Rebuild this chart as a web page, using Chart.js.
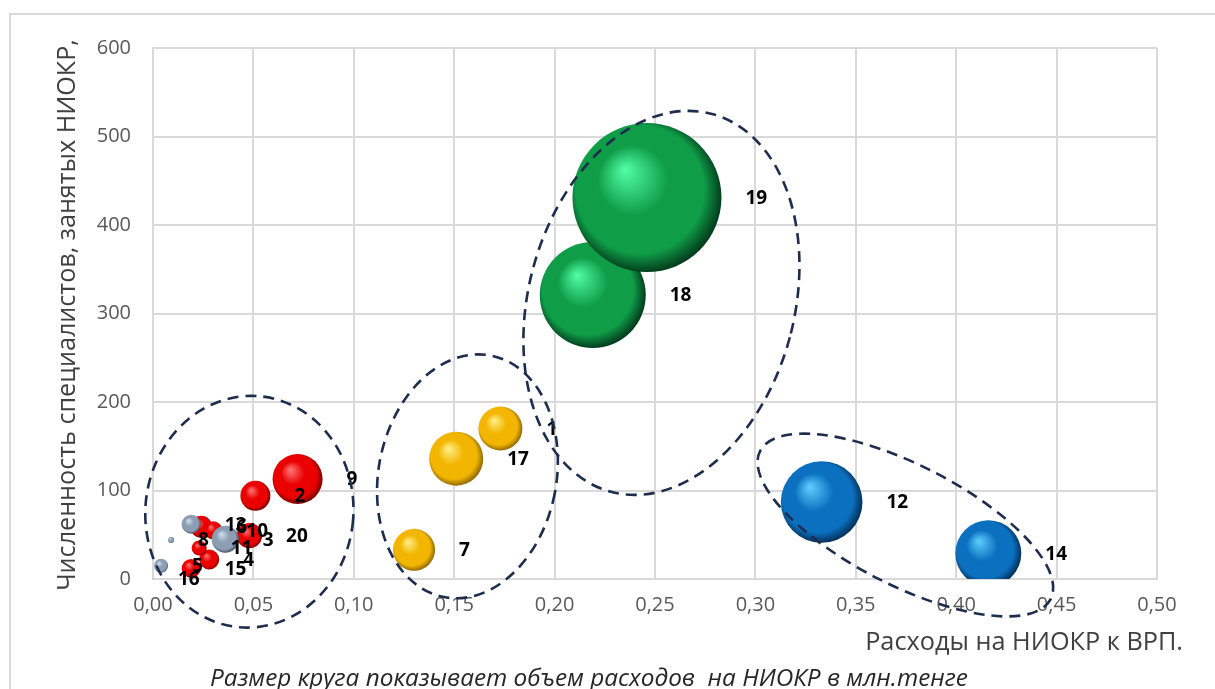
<!DOCTYPE html>
<html><head><meta charset="utf-8">
<script src="https://cdn.jsdelivr.net/npm/chart.js@4.4.1/dist/chart.umd.min.js"></script>
<style>
html,body{margin:0;padding:0;background:#fff;}
#wrap{position:relative;width:1215px;height:689px;overflow:hidden;background:#fff;}
#frame{position:absolute;left:9px;top:13px;width:1230px;height:700px;border:2px solid #d9d9d9;box-sizing:border-box;}
canvas{position:absolute;left:0;top:0;}
</style></head><body>
<div id="wrap"><div id="frame"></div><canvas id="c" width="1215" height="689"></canvas></div>
<script>
// ---- data ----
const regions  = ['1','2','3','4','5','6','7','8','9','10','11','12','13','14','15','16','17','18','19','20'];
const rdShare  = [0.173,0.051,0.036,0.028,0.004,0.024,0.130,0.009,0.072,0.030,0.023,0.333,0.019,0.416,0.019,0.000,0.151,0.219,0.246,0.048];
const staff    = [170,94,45,22,15,59,33,44,113,55,35,87,62,29,12,0,136,321,431,49];
const spending = [5230,2430,1970,1080,530,1310,4770,97,6760,880,610,18000,975,11770,975,10,7880,30360,60000,1740];
const groups   = ['yellow','red','gray','red','gray','red','yellow','gray','red','red','red','blue','gray','blue','red','gray','yellow','green','green','red'];
const xTicks   = [0,0.05,0.10,0.15,0.20,0.25,0.30,0.35,0.40,0.45,0.50];
const yTicks   = [0,100,200,300,400,500,600];

// ---- cluster ellipses (annotation, in data units) ----
const ellCx  = [0.048, 0.1566, 0.2532, 0.3747];
const ellCy  = [76, 116, 312, 61];
const ellRx  = [0.0518, 0.0443, 0.0662, 0.0812];
const ellRy  = [131, 139, 221, 68];
const ellRot = [5, 11, 15, 27];

// ---- styles ----
const palette = {
  gray:   {hi:'#d4e0ee', base:'#8d9eb4', dark:'#4a586c'},
  red:    {hi:'#ff7a7a', base:'#ea0000', dark:'#7e0000'},
  yellow: {hi:'#fff08a', base:'#f2b600', dark:'#946a00'},
  green:  {hi:'#52ffa6', base:'#0f9d48', dark:'#033f1d'},
  blue:   {hi:'#5fd0ff', base:'#0b70c0', dark:'#04325c'}
};
const groupOrder = ['gray','red','yellow','green','blue'];
const R_MAX = 74.5;
const vMax = Math.max(...spending);

function gradFill(group){
  const p = palette[group];
  return function(ctx){
    if (ctx.type !== 'data' || !ctx.raw) return p.base;
    const ch = ctx.chart;
    if (!ch.scales || !ch.scales.x || !ch.scales.y) return p.base;
    const px = ch.scales.x.getPixelForValue(ctx.raw.x);
    const py = ch.scales.y.getPixelForValue(ctx.raw.y);
    const r = Math.max(ctx.raw.r, 0.5);
    if (!isFinite(px) || !isFinite(py) || !isFinite(r)) return p.base;
    const g = ch.ctx.createRadialGradient(px - 0.3*r, py - 0.38*r, 0, px - 0.05*r, py - 0.05*r, r*1.05);
    g.addColorStop(0, p.hi);
    g.addColorStop(0.45, p.base);
    g.addColorStop(0.82, p.base);
    g.addColorStop(1, p.dark);
    return g;
  };
}

const datasets = groupOrder.map(gr => ({
  label: gr,
  data: regions.map((name,i) => ({x: rdShare[i], y: staff[i], r: R_MAX*Math.sqrt(spending[i]/vMax), name}))
               .filter((d,i) => groups[i] === gr),
  backgroundColor: gradFill(gr),
  borderWidth: 0,
  hoverBorderWidth: 0
}));

const FONT = '"Open Sans", "DejaVu Sans", sans-serif';

function fitFont(ctx, text, style, target){
  ctx.font = style + ' 20px ' + FONT;
  const w = ctx.measureText(text).width;
  return 20 * target / w;
}

const labelPlugin = {
  id: 'labels',
  afterDatasetsDraw(chart){
    const ctx = chart.ctx;
    ctx.save();
    ctx.font = 'bold 19px ' + FONT;
    ctx.fillStyle = '#000';
    ctx.textAlign = 'left';
    ctx.textBaseline = 'middle';
    chart.data.datasets.forEach((ds, di) => {
      const meta = chart.getDatasetMeta(di);
      meta.data.forEach((el, j) => {
        const r = el.options.radius;
        ctx.fillText(ds.data[j].name, el.x + r + 24, el.y + 1);
      });
    });
    ctx.restore();
  }
};

const decoPlugin = {
  id: 'deco',
  afterDraw(chart){
    const ctx = chart.ctx, xs = chart.scales.x, ys = chart.scales.y, a = chart.chartArea;
    // ellipses
    ctx.save();
    ctx.strokeStyle = '#1d2d4d';
    ctx.lineWidth = 2.6;
    ctx.setLineDash([11, 7]);
    for (let i = 0; i < ellCx.length; i++) {
      const px = xs.getPixelForValue(ellCx[i]);
      const py = ys.getPixelForValue(ellCy[i]);
      const rx = Math.abs(xs.getPixelForValue(ellCx[i] + ellRx[i]) - px);
      const ry = Math.abs(ys.getPixelForValue(ellCy[i] + ellRy[i]) - py);
      ctx.beginPath();
      ctx.ellipse(px, py, rx, ry, ellRot[i]*Math.PI/180, 0, 2*Math.PI);
      ctx.stroke();
    }
    ctx.restore();
    // titles
    ctx.save();
    ctx.fillStyle = '#404040';
    ctx.textBaseline = 'middle';
    const yTitle = 'Численность специалистов, занятых НИОКР,';
    const ys1 = fitFont(ctx, yTitle, 'normal', 552);
    ctx.font = 'normal ' + ys1.toFixed(2) + 'px ' + FONT;
    ctx.translate(68, 315);
    ctx.rotate(-Math.PI/2);
    ctx.textAlign = 'center';
    ctx.fillText(yTitle, 0, 0);
    ctx.restore();

    ctx.save();
    ctx.fillStyle = '#404040';
    ctx.textBaseline = 'middle';
    const xTitle = 'Расходы на НИОКР к ВРП.';
    const xs1 = fitFont(ctx, xTitle, 'normal', 318);
    ctx.font = 'normal ' + xs1.toFixed(2) + 'px ' + FONT;
    ctx.textAlign = 'right';
    ctx.fillText(xTitle, a.right + 26, 643);

    const cap = 'Размер круга показывает объем расходов  на НИОКР в млн.тенге';
    const cs = fitFont(ctx, cap, 'italic', 758);
    ctx.font = 'italic ' + cs.toFixed(2) + 'px ' + FONT;
    ctx.fillStyle = '#262626';
    ctx.textAlign = 'center';
    ctx.fillText(cap, 589, 679);
    ctx.restore();
  }
};

new Chart(document.getElementById('c'), {
  type: 'bubble',
  data: { datasets },
  plugins: [labelPlugin, decoPlugin],
  options: {
    responsive: false,
    animation: false,
    events: [],
    layout: { autoPadding: false, padding: { left: 0, top: 48, right: 58, bottom: 0 } },
    plugins: { legend: { display: false }, tooltip: { enabled: false } },
    scales: {
      x: {
        type: 'linear', min: 0, max: 0.5,
        afterBuildTicks(s){ s.ticks = xTicks.map(v => ({value: v})); },
        afterFit(s){ s.height = 110; s.paddingLeft = 0; s.paddingRight = 0; },
        ticks: {
          padding: 14, color: '#595959',
          font: { family: FONT, size: 20 },
          callback: v => Number(v).toFixed(2).replace('.', ',')
        },
        grid: { color: '#d9d9d9', lineWidth: 2, drawTicks: false },
        border: { color: '#d9d9d9', width: 2 }
      },
      y: {
        type: 'linear', min: 0, max: 600,
        afterBuildTicks(s){ s.ticks = yTicks.map(v => ({value: v})); },
        afterFit(s){ s.width = 153; s.paddingTop = 0; s.paddingBottom = 0; },
        ticks: {
          padding: 22, color: '#595959',
          font: { family: FONT, size: 20 },
          callback: v => String(v)
        },
        grid: { color: '#d9d9d9', lineWidth: 2, drawTicks: false },
        border: { color: '#d9d9d9', width: 2 }
      }
    }
  }
});
</script>
</body></html>
